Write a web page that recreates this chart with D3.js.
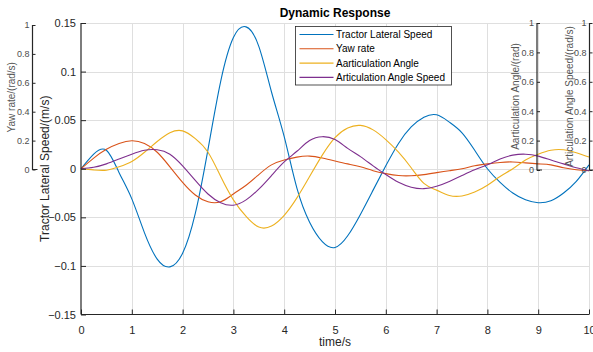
<!DOCTYPE html>
<html>
<head>
<meta charset="utf-8">
<script src="https://cdn.jsdelivr.net/npm/d3@7"></script>
<style>
  body { margin: 0; background: #fff; }
  svg { display: block; font-family: "Liberation Sans", Arial, sans-serif; }
</style>
</head>
<body>
<svg id="chart" width="593" height="352"></svg>
<script>
// time samples (s)
var time = d3.range(0, 41).map(function(i) { return i * 0.25; });

// values every 0.25 s
var lateralSpeed = [0, 0.015, 0.019, -0.004, -0.031, -0.066, -0.093, -0.101, -0.087, -0.046,
  0.02, 0.09, 0.135, 0.146, 0.126, 0.079, 0.033, -0.02, -0.055, -0.075,
  -0.081, -0.069, -0.047, -0.022, 0.003, 0.026, 0.043, 0.053, 0.0555, 0.048,
  0.037, 0.019, 0.0, -0.014, -0.025, -0.032, -0.035, -0.033, -0.025, -0.013, 0.004];
var yawRate = [0, 0.011, 0.02, 0.026, 0.0288, 0.026, 0.017, 0.002, -0.014, -0.027,
  -0.034, -0.034, -0.026, -0.017, -0.006, 0.004, 0.009, 0.012, 0.013, 0.011,
  0.008, 0.005, 0.002, -0.002, -0.005, -0.007, -0.0072, -0.006, -0.004, -0.002,
  0.0, 0.003, 0.005, 0.0065, 0.007, 0.006, 0.005, 0.004, 0.001, -0.001, -0.002];
var artAngle = [0, -0.0012, -0.0015, 0.002, 0.0075, 0.017, 0.028, 0.037, 0.039, 0.031,
  0.017, -0.008, -0.032, -0.049, -0.06, -0.059, -0.048, -0.03, -0.008, 0.014,
  0.032, 0.042, 0.0446, 0.04, 0.03, 0.017, 0.001, -0.015, -0.022, -0.0275,
  -0.028, -0.024, -0.017, -0.0079, 0.0, 0.009, 0.015, 0.019, 0.0195, 0.0165, 0.012];
var artSpeed = [0, 0.0015, 0.005, 0.01, 0.015, 0.019, 0.0195, 0.015, 0.003, -0.012,
  -0.026, -0.035, -0.0375, -0.032, -0.021, -0.007, 0.007, 0.018, 0.029, 0.033,
  0.03, 0.021, 0.0125, 0.003, -0.006, -0.014, -0.019, -0.0205, -0.018, -0.013,
  -0.007, -0.001, 0.004, 0.01, 0.014, 0.015, 0.013, 0.009, 0.005, 0.001, -0.002];

var seriesNames = ["Tractor Lateral Speed", "Yaw rate", "Aarticulation Angle", "Articulation Angle Speed"];
var seriesColors = ["#0072BD", "#D95319", "#EDB120", "#7E2F8E"];
var seriesValues = [lateralSpeed, yawRate, artAngle, artSpeed];

var xTicks = d3.range(0, 11);
var yTicks = [-0.15, -0.1, -0.05, 0, 0.05, 0.1, 0.15];
var sideTicks = [0, 0.2, 0.4, 0.6, 0.8, 1];

var svg = d3.select("#chart");

var x = d3.scaleLinear().domain([0, 10]).range([81, 589]);
var y = d3.scaleLinear().domain([-0.15, 0.15]).range([314.5, 23]);

// grid
var grid = svg.append("g").attr("stroke", "#dfdfdf").attr("stroke-width", 1);
grid.selectAll("line.gx").data(xTicks.slice(1)).enter().append("line")
    .attr("x1", function(d) { return Math.round(x(d)) + 0.5; })
    .attr("x2", function(d) { return Math.round(x(d)) + 0.5; })
    .attr("y1", y(0.15)).attr("y2", y(-0.15));
grid.selectAll("line.gy").data(yTicks.slice(1)).enter().append("line")
    .attr("y1", function(d) { return Math.round(y(d)) + 0.5; })
    .attr("y2", function(d) { return Math.round(y(d)) + 0.5; })
    .attr("x1", x(0)).attr("x2", x(10));

// curves
var line = d3.line()
    .x(function(d) { return x(d[0]); })
    .y(function(d) { return y(d[1]); })
    .curve(d3.curveNatural);

seriesValues.forEach(function(vals, i) {
    svg.append("path")
        .datum(time.map(function(t, k) { return [t, vals[k]]; }))
        .attr("fill", "none")
        .attr("stroke", seriesColors[i])
        .attr("stroke-width", 1.1)
        .attr("d", line);
});

// main axes
var xAxis = d3.axisBottom(x).tickValues(xTicks).tickSize(-5).tickPadding(12).tickFormat(d3.format("d"));
var yAxis = d3.axisLeft(y).tickValues(yTicks).tickSize(-5).tickPadding(5).tickFormat(function(d) {
    return d === 0 ? "0" : d3.format("")(+d.toFixed(2));
});

var gx = svg.append("g").attr("transform", "translate(0," + y(-0.15) + ")").call(xAxis);
var gy = svg.append("g").attr("transform", "translate(" + x(0) + ",0)").call(yAxis);
[gx, gy].forEach(function(g) {
    g.select(".domain").attr("stroke", "#262626").attr("stroke-width", 1.2);
    g.selectAll(".tick line").attr("stroke", "#262626");
    g.selectAll(".tick text").attr("fill", "#262626").attr("font-size", 11)
        .attr("font-family", "Liberation Sans, Arial, sans-serif");
});
gx.select(".domain").attr("d", "M" + x(0) + ",0H" + x(10));
gy.select(".domain").attr("d", "M0," + y(0.15) + "V" + y(-0.15));

// small side axes (transparent, only the y axis line + a short foot)
function sideAxis(px, top, bottom, label, labelX) {
    var s = d3.scaleLinear().domain([0, 1]).range([bottom, top]);
    var g = svg.append("g").attr("transform", "translate(" + px + ",0)")
        .call(d3.axisLeft(s).tickValues(sideTicks).tickSize(-3).tickPadding(3).tickFormat(d3.format("")));
    g.select(".domain").attr("d", "M0," + top + "V" + bottom + "H5")
        .attr("stroke", "#262626").attr("stroke-width", 1.2);
    g.selectAll(".tick line").attr("stroke", "#262626");
    g.selectAll(".tick text").attr("fill", "#4d4d4d").attr("font-size", 9)
        .attr("font-family", "Liberation Sans, Arial, sans-serif");
    svg.append("text")
        .attr("transform", "translate(" + labelX + "," + (top + bottom) / 2 + ") rotate(-90)")
        .attr("text-anchor", "middle")
        .attr("font-size", 10)
        .attr("fill", "#555")
        .text(label);
}
sideAxis(32.5, 25, 169.5, "Yaw rate/(rad/s)", 15);
sideAxis(537, 23, 170, "Aarticulation Angle/(rad)", 519);
sideAxis(589.5, 23, 170, "Articulation Angle Speed/(rad/s)", 572.5);

// labels
svg.append("text")
    .attr("transform", "translate(48.5," + (y(0.15) + y(-0.15)) / 2 + ") rotate(-90)")
    .attr("text-anchor", "middle")
    .attr("font-size", 12)
    .attr("fill", "#262626")
    .text("Tractor Lateral Speed/(m/s)");

svg.append("text")
    .attr("x", (x(0) + x(10)) / 2).attr("y", 346)
    .attr("text-anchor", "middle")
    .attr("font-size", 12)
    .attr("fill", "#262626")
    .text("time/s");

svg.append("text")
    .attr("x", (x(0) + x(10)) / 2).attr("y", 16.5)
    .attr("text-anchor", "middle")
    .attr("font-size", 12)
    .attr("font-weight", "bold")
    .attr("fill", "#000")
    .text("Dynamic Response");

// legend
var legend = svg.append("g").attr("transform", "translate(295.5,26.5)");
legend.append("rect")
    .attr("width", 156).attr("height", 58.5)
    .attr("fill", "#fff").attr("stroke", "#262626").attr("stroke-width", 0.8);
var item = legend.selectAll("g.item").data(seriesNames).enter().append("g")
    .attr("transform", function(d, i) { return "translate(0," + (8 + i * 14.3) + ")"; });
item.append("line")
    .attr("x1", 4).attr("x2", 38)
    .attr("stroke", function(d, i) { return seriesColors[i]; })
    .attr("stroke-width", 1.1);
item.append("text")
    .attr("x", 40.5).attr("dy", "0.35em")
    .attr("font-size", 10)
    .attr("fill", "#000")
    .text(function(d) { return d; });
</script>
</body>
</html>
